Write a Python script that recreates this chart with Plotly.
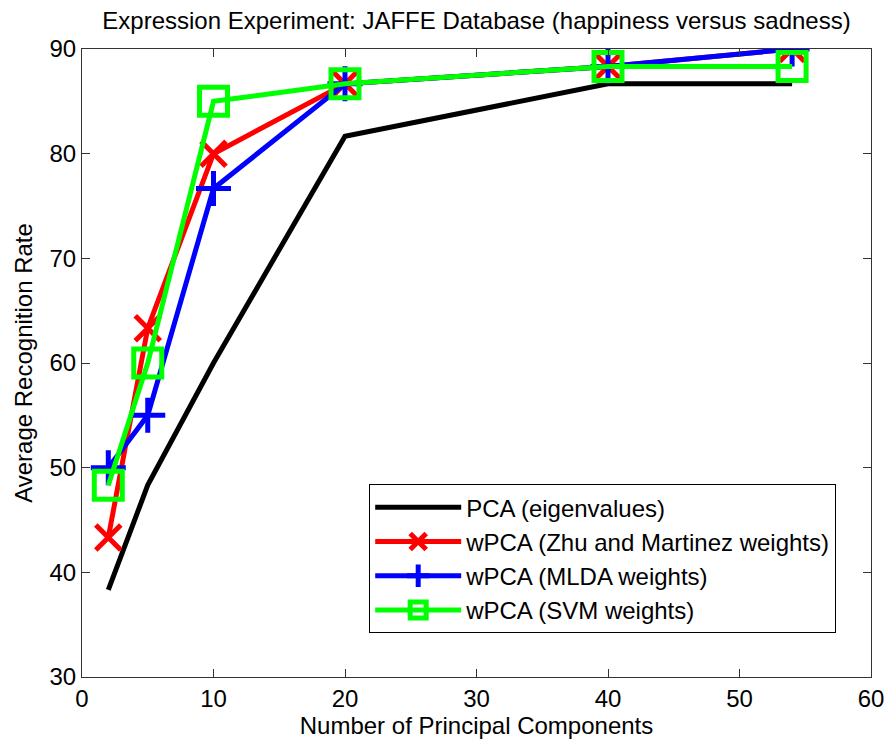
import plotly.graph_objects as go

n_components = [2, 5, 10, 20, 40, 54]
pca_eigen = [38.33, 48.33, 60.0, 81.67, 86.67, 86.67]
wpca_zhu = [43.33, 63.33, 80.0, 86.67, 88.33, 90.0]
wpca_mlda = [50.0, 55.0, 76.67, 86.67, 88.33, 90.0]
wpca_svm = [48.33, 60.0, 85.0, 86.67, 88.33, 88.33]

names = ["PCA (eigenvalues)", "wPCA (Zhu and Martinez weights)",
         "wPCA (MLDA weights)", "wPCA (SVM weights)"]

FONT = "Liberation Sans, Arial, sans-serif"
FS = 24
fig = go.Figure()

fig.add_trace(go.Scatter(x=n_components, y=pca_eigen, mode="lines", name=names[0],
                         line=dict(color="#000000", width=5), legendgroup="a"))
fig.add_trace(go.Scatter(x=n_components, y=wpca_zhu, mode="lines+markers", name=names[1],
                         line=dict(color="#FF0000", width=5), legendgroup="b",
                         marker=dict(symbol="x-thin-open", size=25, color="#FF0000",
                                     line=dict(color="#FF0000", width=5))))
fig.add_trace(go.Scatter(x=n_components, y=wpca_mlda, mode="lines+markers", name=names[2],
                         line=dict(color="#0000FF", width=5), legendgroup="c",
                         marker=dict(symbol="cross-thin-open", size=25, color="#0000FF",
                                     line=dict(color="#0000FF", width=5))))
fig.add_trace(go.Scatter(x=n_components, y=wpca_svm, mode="lines+markers", name=names[3],
                         line=dict(color="#00FF00", width=5), legendgroup="d",
                         marker=dict(symbol="square-open", size=28, color="#00FF00",
                                     line=dict(color="#00FF00", width=5))))

axis_common = dict(showgrid=False, zeroline=False, showline=True, linecolor="#333333",
                   linewidth=1, mirror="ticks", ticks="inside", ticklen=8,
                   tickcolor="#333333", tickfont=dict(family=FONT, size=FS, color="#000"),
                   ticklabeloverflow="allow")

fig.update_xaxes(range=[0, 60], tickvals=[0, 10, 20, 30, 40, 50, 60], **axis_common,
                 title=dict(text="Number of Principal Components",
                            font=dict(family=FONT, size=FS, color="#000"), standoff=3))
fig.update_yaxes(range=[30, 90], tickvals=[30, 40, 50, 60, 70, 80, 90], **axis_common,
                 title=dict(text="Average Recognition Rate",
                            font=dict(family=FONT, size=FS, color="#000"), standoff=10))

fig.update_layout(
    width=896, height=745,
    margin=dict(l=82, r=17, t=49, b=68),
    paper_bgcolor="white", plot_bgcolor="white",
    title=dict(text="Expression Experiment: JAFFE Database (happiness versus sadness)",
               font=dict(family=FONT, size=FS, color="#000"),
               x=0.5, xref="paper", xanchor="center", y=0.9725, yanchor="middle"),
    legend=dict(x=0.364, y=0.307, xanchor="left", yanchor="top",
                bgcolor="white", bordercolor="#000", borderwidth=1,
                font=dict(family=FONT, size=FS, color="#000"),
                itemwidth=86, tracegroupgap=7, traceorder="normal"),
    font=dict(family=FONT),
)

fig.write_html("out.html", config={"displayModeBar": False},
               post_script="document.body.style.margin='0';document.body.style.overflow='hidden';")
